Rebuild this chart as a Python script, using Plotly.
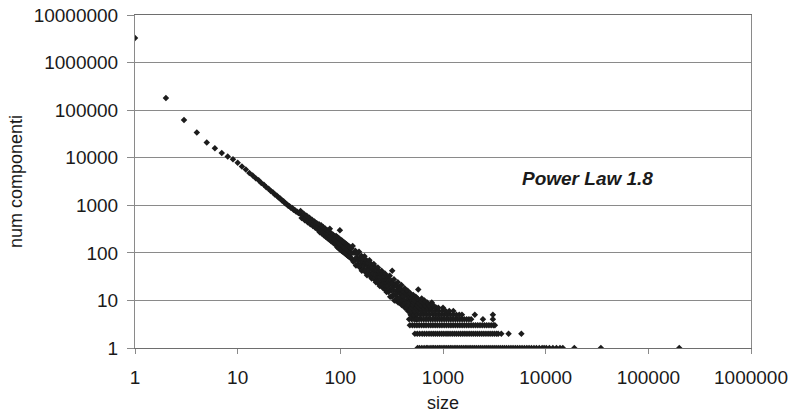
import plotly.graph_objects as go

# ---------------- data ----------------
# main diagonal: one point per size 1..130
diag_size = list(range(1, 131))
diag_count = [
    3300000, 180000, 62000, 34000, 21000, 15800, 12600, 10600, 9300, 7800,
    6500, 5650, 4800, 4250, 3700, 3350, 2950, 2700, 2400, 2230,
    2000, 1880, 1690, 1600, 1450, 1390, 1260, 1210, 1100, 1070,
    980, 960, 890, 880, 810, 800, 740, 735, 685, 680,
    760, 542, 600, 666, 487, 545, 600, 439, 495, 545,
    400, 450, 498, 366, 412, 458, 337, 380, 421, 311,
    352, 400, 271, 325, 379, 254, 300, 350, 235, 286,
    326, 219, 260, 303, 203, 248, 283, 190, 320, 222,
    178, 255, 208, 168, 240, 196, 158, 225, 186, 149,
    225, 175, 132, 213, 166, 125, 201, 157, 300, 116,
    188, 147, 110, 179, 140, 106, 170, 133, 100, 163,
    127, 96, 155, 121, 91, 148, 116, 87, 141, 111,
    84, 136, 106, 81, 130, 102, 77, 125, 98, 74,
]

# scattered cloud between size 130 and 600
cloud_size = [
    132, 134, 136, 138, 140, 142, 144, 146, 148, 150,
    152, 154, 156, 158, 160, 162, 164, 166, 168, 170,
    172, 174, 176, 178, 180, 182, 184, 186, 188, 190,
    192, 194, 196, 198, 200, 202, 204, 206, 208, 210,
    212, 214, 216, 218, 220, 222, 224, 226, 228, 230,
    232, 234, 236, 238, 240, 242, 244, 246, 248, 250,
    252, 254, 256, 258, 260, 262, 264, 266, 268, 270,
    272, 274, 276, 278, 280, 282, 284, 286, 288, 290,
    292, 294, 296, 298, 300,
    303, 306, 309, 312, 315, 318, 321, 324, 327, 330,
    333, 336, 339, 342, 345, 348, 351, 354, 357, 360,
    363, 366, 369, 372, 375, 378, 381, 384, 387, 390,
    393, 396, 399, 402, 405, 408, 411, 414, 417, 420,
    423, 426, 429, 432, 435, 438, 441, 444, 447, 450,
    453, 456, 459, 462, 465, 468, 471, 474, 477, 480,
    483, 486, 489, 492, 495, 498, 501, 504, 507, 510,
    513, 516, 519, 522, 525, 528, 531, 534, 537, 540,
    543, 546, 549, 552, 555, 558, 561,
    320, 574, 777, 860,
]
cloud_count = [
    139, 65, 100, 70, 111, 54, 81, 95, 58, 68,
    106, 50, 77, 55, 87, 42, 64, 75, 46, 54,
    85, 40, 62, 44, 70, 34, 52, 61, 37, 44,
    70, 33, 51, 36, 58, 29, 43, 50, 31, 37,
    58, 28, 43, 30, 49, 24, 36, 43, 26, 31,
    49, 23, 36, 26, 41, 20, 31, 36, 22, 27,
    42, 20, 31, 22, 36, 18, 27, 32, 20, 23,
    37, 17, 27, 20, 31, 15, 23, 28, 17, 20,
    32, 15, 24, 17, 27,
    33, 12, 23, 16, 26, 12, 19, 23, 13, 16,
    28, 10, 20, 13, 22, 10, 16, 20, 11, 14,
    24, 9, 17, 11, 19, 9, 14, 17, 9, 12,
    21, 8, 14, 10, 16, 8, 12, 15, 8, 10,
    18, 7, 13, 9, 14, 7, 10, 13, 7, 9,
    16, 6, 11, 8, 13, 6, 9, 12, 6, 8,
    14, 5, 10, 7, 11, 5, 8, 10, 6, 7,
    13, 5, 9, 6, 10, 5, 8, 9, 5, 7,
    12, 4, 8, 6, 9, 4, 7,
    42, 17, 9, 7,
]

# horizontal rows of small counts at large sizes
row_count = [1, 2, 3, 4, 5, 6, 7, 8, 9, 10, 11]
row_sizes = [
    [565, 590, 622, 655, 688, 712, 748, 781, 812, 846, 885, 921, 958, 1002,
     1043, 1087, 1131, 1178, 1225, 1283, 1336, 1392, 1455, 1512, 1578, 1647,
     1713, 1792, 1866, 1949, 2031, 2117, 2214, 2309, 2410, 2521, 2633, 2755,
     2876, 3014, 3151, 3297, 3452, 3611, 3789, 3962, 4155, 4372, 4590, 4813,
     5064, 5317, 5602, 5888, 6204, 6551, 6893, 7266, 7692, 8130, 8655, 9240,
     9660, 10150, 10870, 11760, 12730, 13800, 14700, 19000, 34500, 200000],
    [532, 561, 593, 627, 659, 694, 731, 767, 805, 843, 884, 927, 972, 1018,
     1069, 1119, 1172, 1231, 1290, 1352, 1417, 1486, 1560, 1633, 1712, 1797,
     1884, 1973, 2071, 2168, 2274, 2386, 2498, 2619, 2747, 2879, 3020, 3164,
     3318, 3450, 3700, 4350, 5800],
    [476, 503, 529, 557, 586, 618, 651, 684, 722, 760, 798, 839, 882, 929,
     976, 1027, 1080, 1136, 1194, 1255, 1320, 1388, 1460, 1535, 1614, 1697,
     1785, 1876, 1972, 2074, 2181, 2293, 2411, 2535, 2665, 2803, 2947, 3098,
     3200],
    [468, 497, 524, 553, 584, 615, 648, 683, 718, 757, 795, 837, 880, 927,
     974, 1025, 1078, 1134, 1192, 1254, 1319, 1387, 1458, 1535, 1612, 1700,
     1790, 1880, 2450, 3060],
    [485, 520, 560, 601, 645, 692, 742, 800, 850, 905, 965, 1030, 1100, 1180,
     1260, 1350, 1440, 1530, 2040, 3060],
    [490, 530, 575, 620, 670, 725, 780, 840, 905, 980, 1060, 1150, 1260],
    [500, 545, 590, 640, 700, 760, 830, 900, 1000],
    [505, 555, 610, 670, 730, 800],
    [520, 575, 640, 700],
    [530, 600, 660],
    [565, 620],
]

x_tick_vals = [1, 10, 100, 1000, 10000, 100000, 1000000]
x_tick_text = ["1", "10", "100", "1000", "10000", "100000", "1000000"]
y_tick_vals = [1, 10, 100, 1000, 10000, 100000, 1000000, 10000000]
y_tick_text = ["1", "10", "100", "1000", "10000", "100000", "1000000", "10000000"]

# ---------------- assemble ----------------
all_x = list(diag_size) + list(cloud_size)
all_y = list(diag_count) + list(cloud_count)
for c, sizes in zip(row_count, row_sizes):
    all_x += sizes
    all_y += [c] * len(sizes)

FONT = "Liberation Sans, Arial, sans-serif"
GRID = "#8a8a8a"
TXT = "#1a1a1a"

fig = go.Figure()
fig.add_trace(go.Scatter(
    x=all_x, y=all_y, mode="markers",
    marker=dict(symbol="diamond", size=5, color="#1c1c1c", line=dict(width=0)),
    hoverinfo="x+y",
))

fig.add_annotation(
    x=3.75, y=3.57, xref="x", yref="y",
    text="<b><i>Power Law 1.8</i></b>", showarrow=False,
    xanchor="left", yanchor="middle",
    font=dict(family=FONT, size=19, color=TXT),
)

fig.update_layout(
    width=792, height=413,
    margin=dict(l=135, r=41, t=15, b=65),
    paper_bgcolor="white", plot_bgcolor="white",
    showlegend=False,
    font=dict(family=FONT, size=19, color=TXT),
)
fig.update_xaxes(
    type="log", range=[0, 6], automargin=False,
    tickmode="array", tickvals=x_tick_vals, ticktext=x_tick_text,
    ticks="outside", ticklen=5, tickcolor=GRID, tickwidth=1,
    ticklabelstandoff=7, ticklabeloverflow="allow",
    tickfont=dict(family=FONT, size=19, color=TXT),
    showgrid=False, zeroline=False,
    showline=True, linecolor="#6e6e6e", linewidth=1, mirror=True,
    title=dict(text="size", font=dict(family=FONT, size=18, color=TXT), standoff=9),
)
fig.update_yaxes(
    type="log", range=[0, 7], automargin=False,
    tickmode="array", tickvals=y_tick_vals, ticktext=y_tick_text,
    ticks="outside", ticklen=7, tickcolor=GRID, tickwidth=1,
    ticklabelstandoff=5, ticklabeloverflow="allow",
    tickfont=dict(family=FONT, size=19, color=TXT),
    showgrid=True, gridcolor=GRID, gridwidth=1, zeroline=False,
    showline=True, linecolor=GRID, linewidth=1, mirror=True,
    title=dict(text="num componenti", font=dict(family=FONT, size=18, color=TXT), standoff=6),
)

# remove the browser's default 8px body margin so the figure fills the window
fig.write_html(
    "out.html",
    post_script="document.body.style.margin='0';",
    config={"displayModeBar": False},
)
